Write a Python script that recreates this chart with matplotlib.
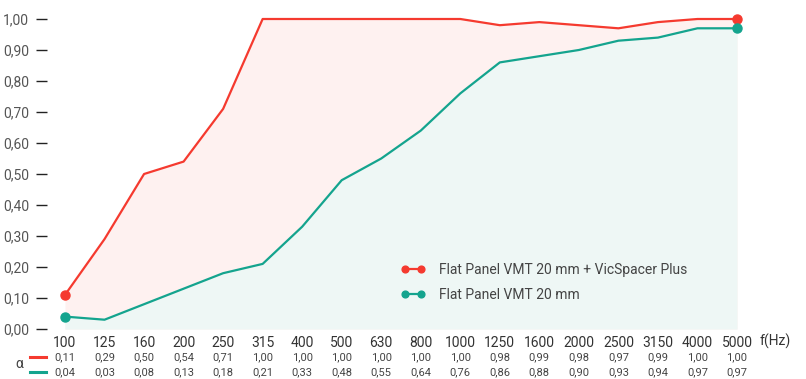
import matplotlib
matplotlib.use("Agg")
import matplotlib.pyplot as plt
from matplotlib.transforms import blended_transform_factory
import numpy as np

plt.rcParams['font.family'] = ['Roboto', 'DejaVu Sans']

freqs = ["100", "125", "160", "200", "250", "315", "400", "500", "630", "800",
         "1000", "1250", "1600", "2000", "2500", "3150", "4000", "5000"]
red_vals = [0.11, 0.29, 0.50, 0.54, 0.71, 1.00, 1.00, 1.00, 1.00, 1.00,
            1.00, 0.98, 0.99, 0.98, 0.97, 0.99, 1.00, 1.00]
green_vals = [0.04, 0.03, 0.08, 0.13, 0.18, 0.21, 0.33, 0.48, 0.55, 0.64,
              0.76, 0.86, 0.88, 0.90, 0.93, 0.94, 0.97, 0.97]
red_label = "Flat Panel VMT 20 mm + VicSpacer Plus"
green_label = "Flat Panel VMT 20 mm"
yticks = [0.0, 0.1, 0.2, 0.3, 0.4, 0.5, 0.6, 0.7, 0.8, 0.9, 1.0]

RED = "#f53a2f"
GREEN = "#14a48e"
RED_FILL = "#fef1f0"
GREEN_FILL = "#eef7f5"

W, H = 806, 379
fig = plt.figure(figsize=(W / 100, H / 100), dpi=100)
ax = fig.add_axes([65 / W, 1 - 329 / H, (737 - 65) / W, (329 - 19) / H])

x = np.arange(len(freqs))
ax.fill_between(x, 0, red_vals, color=RED_FILL, lw=0, zorder=1)
ax.fill_between(x, 0, green_vals, color=GREEN_FILL, lw=0, zorder=2)
ax.plot(x, red_vals, color=RED, lw=1.6, zorder=4, clip_on=False,
        marker='o', markersize=6.5, markevery=[0, len(x) - 1], label=red_label)
ax.plot(x, green_vals, color=GREEN, lw=1.6, zorder=4, clip_on=False,
        marker='o', markersize=6.5, markevery=[0, len(x) - 1], label=green_label)

ax.set_xlim(0, len(freqs) - 1)
ax.set_ylim(0, 1)
for s in ax.spines.values():
    s.set_visible(False)
ax.spines['left'].set_position(('outward', 13))
ax.set_yticks(yticks)
ax.set_yticklabels([f"{v:.2f}".replace('.', ',') for v in yticks])
ax.tick_params(axis='y', length=8, width=1, color="#222222", pad=5,
               labelsize=10, labelcolor="#555555")
ax.set_xticks(x)
ax.set_xticklabels(freqs)
ax.tick_params(axis='x', length=0, pad=5, labelsize=10, labelcolor="#333333")

trans = blended_transform_factory(ax.transData, fig.transFigure)
fig.text(760 / W, 1 - 341 / H, "f(Hz)", fontsize=10, color="#333333",
         va='center', ha='left')
y_r = 1 - 357 / H
y_g = 1 - 372 / H
for i in range(len(freqs)):
    ax.text(x[i], y_r, f"{red_vals[i]:.2f}".replace('.', ','), transform=trans,
            fontsize=8, color="#444444", ha='center', va='center', clip_on=False)
    ax.text(x[i], y_g, f"{green_vals[i]:.2f}".replace('.', ','), transform=trans,
            fontsize=8, color="#444444", ha='center', va='center', clip_on=False)
fig.text(19 / W, 1 - 364 / H, "α", fontsize=10, color="#444444", ha='center', va='center')
fig.add_artist(plt.Line2D([30 / W, 46 / W], [y_r, y_r], color=RED, lw=2.2))
fig.add_artist(plt.Line2D([30 / W, 46 / W], [y_g, y_g], color=GREEN, lw=2.2))

leg = ax.legend(loc='lower left', bbox_to_anchor=((388 - 65) / (737 - 65), 0.048),
                frameon=False, numpoints=2, handlelength=1.8, handletextpad=1.0,
                fontsize=10, labelspacing=0.75, markerscale=0.75)
for t in leg.get_texts():
    t.set_color("#444444")

fig.savefig("out.png", dpi=100)
